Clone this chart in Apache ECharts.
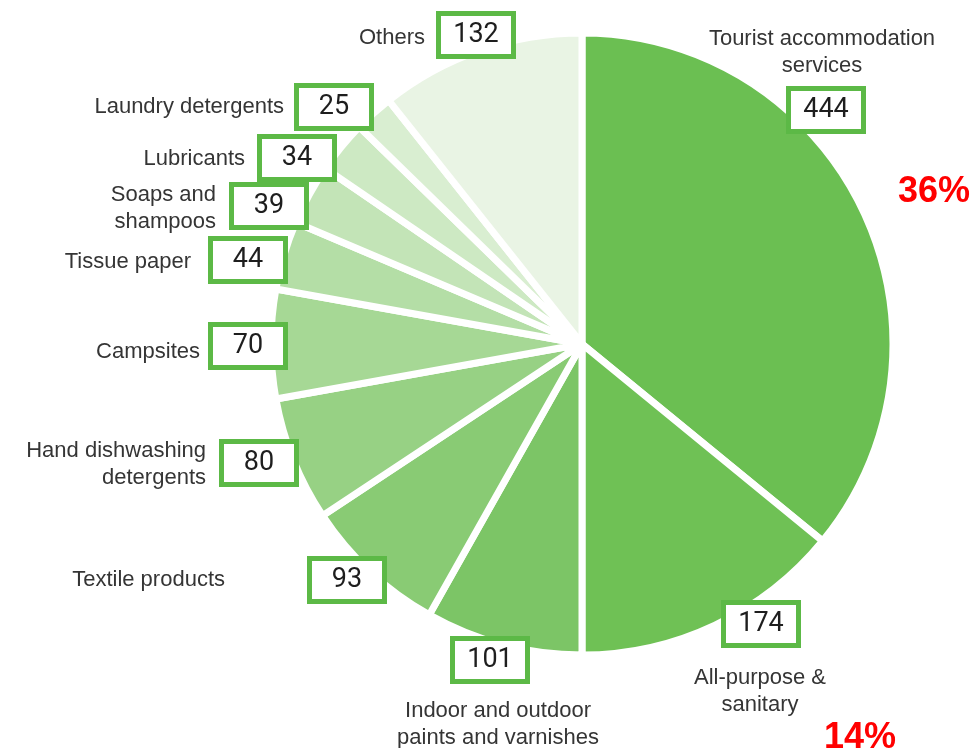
<!DOCTYPE html>
<html>
<head>
<meta charset="utf-8">
<script src="https://cdn.jsdelivr.net/npm/echarts@6/dist/echarts.min.js"></script>
<style>
html,body{margin:0;padding:0;background:#fff;}
#chart{width:976px;height:748px;}
</style>
</head>
<body>
<div id="chart"></div>
<script>
// ---- data ----
const categories = [
  'Tourist accommodation\nservices',
  'All-purpose &\nsanitary',
  'Indoor and outdoor\npaints and varnishes',
  'Textile products',
  'Hand dishwashing\ndetergents',
  'Campsites',
  'Tissue paper',
  'Soaps and\nshampoos',
  'Lubricants',
  'Laundry detergents',
  'Others'
];
const values = [444, 174, 101, 93, 80, 70, 44, 39, 34, 25, 132];
const highlightPercents = ['36%', '14%'];

// ---- styles / layout (not data) ----
const sliceColors = ['#6bbf52','#6fc155','#7cc566','#89cb74','#97d184','#a6d895',
                     '#b4dea6','#c3e4b7','#cde9c3','#d9eed1','#e9f4e4'];
const boxPos = [[826,110],[761,624],[490,660],[347,580],[259,463],[248,346],
                [248,260],[269,206],[297,158],[334,107],[476,35]];
const namePos = [[822,52,'center'],[760,691,'center'],[498,724,'center'],[225,580,'right'],
                 [206,464,'right'],[200,352,'right'],[191,262,'right'],[216,208,'right'],
                 [245,159,'right'],[284,107,'right'],[425,38,'right']];
const pctPos = [[934,192],[860,738]];

const chart = echarts.init(document.getElementById('chart'), null, {renderer:'canvas'});

const pieData = categories.map((c, i) => ({
  name: c, value: values[i],
  itemStyle: { color: sliceColors[i] }
}));
const center = [582, 344];
const radius = 311;

chart.setOption({
  animation: false,
  backgroundColor: '#ffffff',
  series: [
    {
      type: 'pie',
      center: center,
      radius: [0, radius],
      startAngle: 90,
      clockwise: true,
      avoidLabelOverlap: false,
      silent: true,
      itemStyle: { borderColor: '#ffffff', borderWidth: 7 },
      data: pieData,
      labelLine: { show: false },
      label: {
        show: true,
        position: 'outside',
        formatter: p => String(p.value),
        fontFamily: 'Roboto, "Liberation Sans", sans-serif',
        fontSize: 27,
        color: '#1e1e1e',
        backgroundColor: '#ffffff',
        borderColor: '#5cb946',
        borderWidth: 5,
        width: 70,
        height: 38,
        lineHeight: 46,
        align: 'center',
        verticalAlign: 'middle'
      },
      labelLayout: function (params) {
        const p = boxPos[params.dataIndex];
        return { x: p[0], y: p[1], align: 'center', verticalAlign: 'middle' };
      }
    },
    {
      type: 'pie',
      center: center,
      radius: [0, radius],
      startAngle: 90,
      clockwise: true,
      avoidLabelOverlap: false,
      silent: true,
      itemStyle: { color: 'rgba(0,0,0,0)', borderWidth: 0 },
      data: categories.map((c, i) => ({ name: c, value: values[i] })),
      labelLine: { show: false },
      label: {
        show: true,
        position: 'outside',
        formatter: p => p.name,
        fontFamily: 'Liberation Sans',
        fontSize: 22,
        lineHeight: 27,
        color: '#353535'
      },
      labelLayout: function (params) {
        const p = namePos[params.dataIndex];
        return { x: p[0], y: p[1], align: p[2], verticalAlign: 'middle' };
      }
    }
  ],
  graphic: highlightPercents.map((t, i) => ({
    type: 'text',
    x: pctPos[i][0], y: pctPos[i][1],
    style: {
      text: t, fill: '#ff0000',
      font: 'bold 36px "Liberation Sans", Arial, sans-serif',
      textAlign: 'center', textVerticalAlign: 'middle'
    }
  }))
});
</script>
</body>
</html>
